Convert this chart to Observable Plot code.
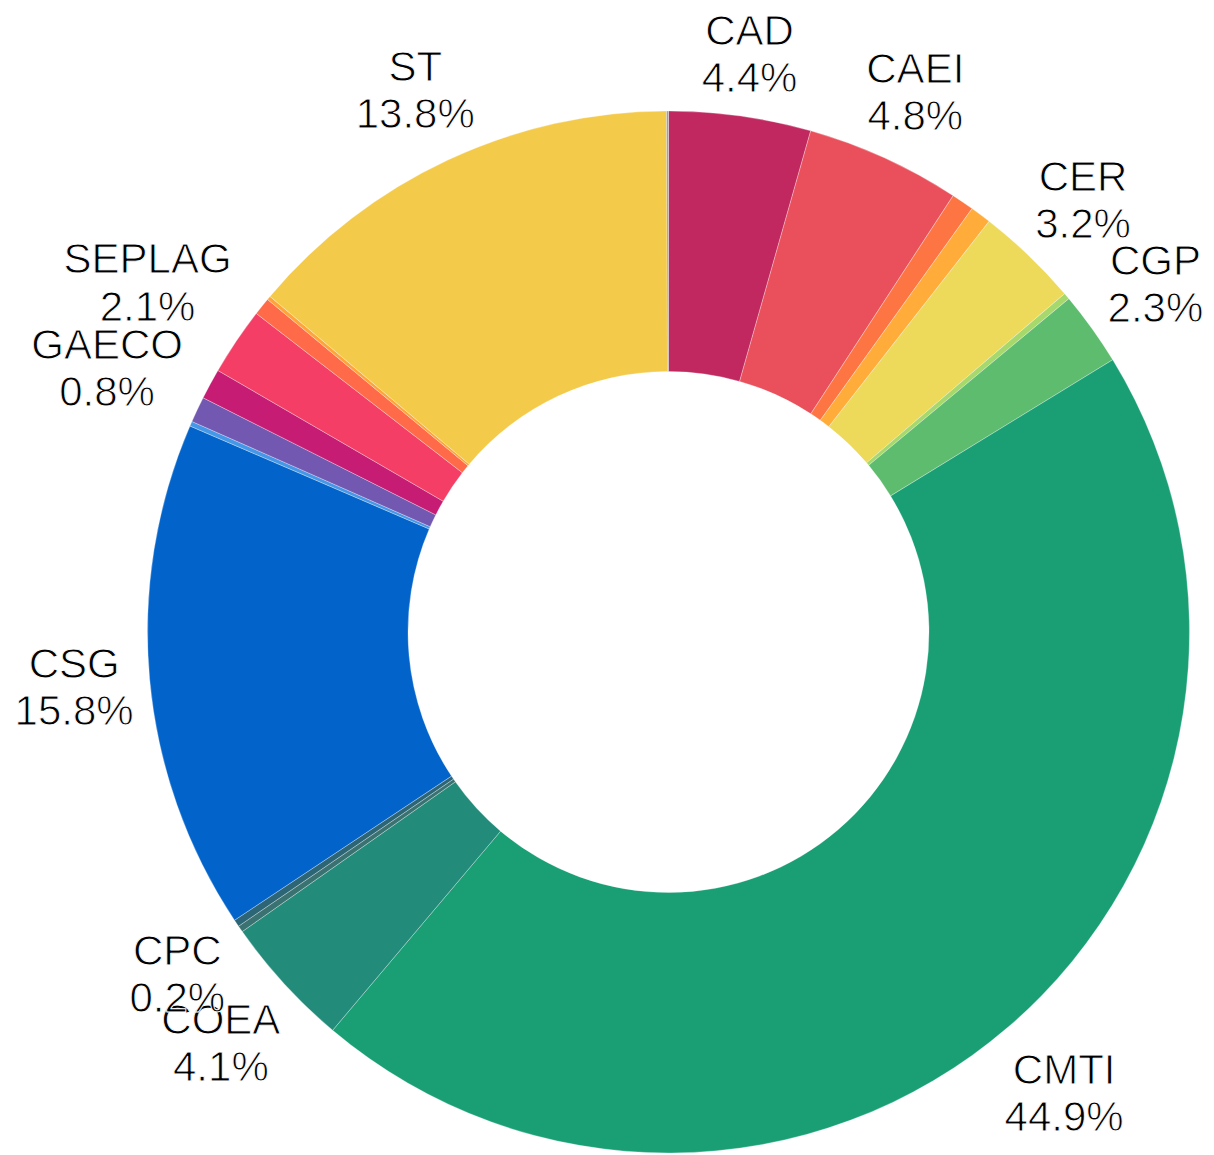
<!DOCTYPE html>
<html>
<head>
<meta charset="utf-8">
<script src="https://cdn.jsdelivr.net/npm/d3@7"></script>
<script src="https://cdn.jsdelivr.net/npm/@observablehq/plot@0.6"></script>
<style>
  html, body { margin: 0; padding: 0; background: #ffffff; }
  #chart svg { display: block; overflow: visible; }
</style>
</head>
<body>
<div id="chart"></div>
<script>
// ---- Data (clockwise from 12 o'clock) ----
const categories = [
  "CAD", "CAEI", "s/rótulo 1", "s/rótulo 2", "CER", "s/rótulo 3", "CGP",
  "CMTI", "COEA", "CPC", "s/rótulo 4", "CSG", "s/rótulo 5", "GAECO",
  "s/rótulo 6", "SEPLAG", "s/rótulo 7", "s/rótulo 8", "ST", "s/rótulo 9"
];
const shares = [
  4.4, 4.8, 0.7, 0.65, 3.2, 0.2, 2.3,
  44.9, 4.1, 0.2, 0.22, 15.8, 0.15, 0.8,
  0.95, 2.1, 0.55, 0.12, 13.8, 0.06
];
const shownLabels = ["CAD", "CAEI", "CER", "CGP", "CMTI", "COEA", "CPC", "CSG", "GAECO", "SEPLAG", "ST"];
const palette = [
  "#c0285f", "#e9505b", "#fe7544", "#ffac3b", "#edd95a", "#a6d86c", "#5dbc6e",
  "#1a9f75", "#238b7a", "#3a7272", "#2c6575", "#0264cb", "#4597e8", "#7358b2",
  "#c61c74", "#f43e66", "#ff6a48", "#ffa43a", "#f4ca4a", "#9e9e9e"
];

// ---- Layout settings ----
const W = 1214, H = 1155;
const M = {left: 147.5, right: 24.5, top: 111, bottom: 2};
const innerRatio = 0.5;
const fontFamily = "'Liberation Sans', Arial, sans-serif";
const fontSize = 42;
const lineHeight = 1.12;

// ---- Build table ----
const rows = categories.map((c, i) => ({category: c, share: shares[i]}));
const arcs = d3.pie().sort(null).value(d => d.share).startAngle(0).endAngle(2 * Math.PI)(rows);

// Label placement: at each slice's mid-angle, just outside the ring
const pxPerUnit = (W - M.left - M.right) / 2;
const ctx = document.createElement("canvas").getContext("2d");
ctx.font = `${fontSize}px ${fontFamily}`;
const labelGap = 1.025;
const labels = arcs
  .filter(a => shownLabels.includes(a.data.category))
  .map(a => {
    const mid = (a.startAngle + a.endAngle) / 2;
    const ux = Math.sin(mid), uy = Math.cos(mid);
    const pct = a.data.share.toFixed(1) + "%";
    const wpx = Math.max(ctx.measureText(a.data.category).width, ctx.measureText(pct).width);
    const hw = (wpx / 2) / pxPerUnit;
    const hh = 44 / pxPerUnit;
    const d = labelGap + hw * Math.abs(ux) + hh * Math.abs(uy);
    return {x: d * ux, y: d * uy, text: a.data.category + "\n" + pct};
  });

function ring(index, scales) {
  const cx = scales.x(0), cy = scales.y(0);
  const R = scales.x(1) - scales.x(0);
  const arc = d3.arc().innerRadius(R * innerRatio).outerRadius(R);
  const g = d3.create("svg:g").attr("transform", `translate(${cx},${cy})`);
  g.selectAll("path")
    .data(arcs)
    .join("path")
    .attr("d", arc)
    .attr("fill", d => scales.color(d.data.category))
    .attr("stroke", "#ffffff")
    .attr("stroke-opacity", 0.5)
    .attr("stroke-width", 0.6);
  return g.node();
}

const chart = Plot.plot({
  width: W,
  height: H,
  marginLeft: M.left,
  marginRight: M.right,
  marginTop: M.top,
  marginBottom: M.bottom,
  x: {domain: [-1, 1], axis: null},
  y: {domain: [-1, 1], axis: null},
  color: {type: "ordinal", domain: categories, range: palette},
  style: {fontFamily: fontFamily, background: "#ffffff"},
  marks: [
    Plot.dot(rows, {x: () => 0, y: () => 0, fill: "category", r: 1, fillOpacity: 0, stroke: null}),
    ring,
    Plot.text(labels, {
      x: "x", y: "y", text: "text",
      fontSize: fontSize, lineHeight: lineHeight,
      textAnchor: "middle", fill: "#000000",
      stroke: "#ffffff", strokeWidth: 0.9, paintOrder: "normal"
    })
  ]
});
document.getElementById("chart").appendChild(chart);
</script>
</body>
</html>
